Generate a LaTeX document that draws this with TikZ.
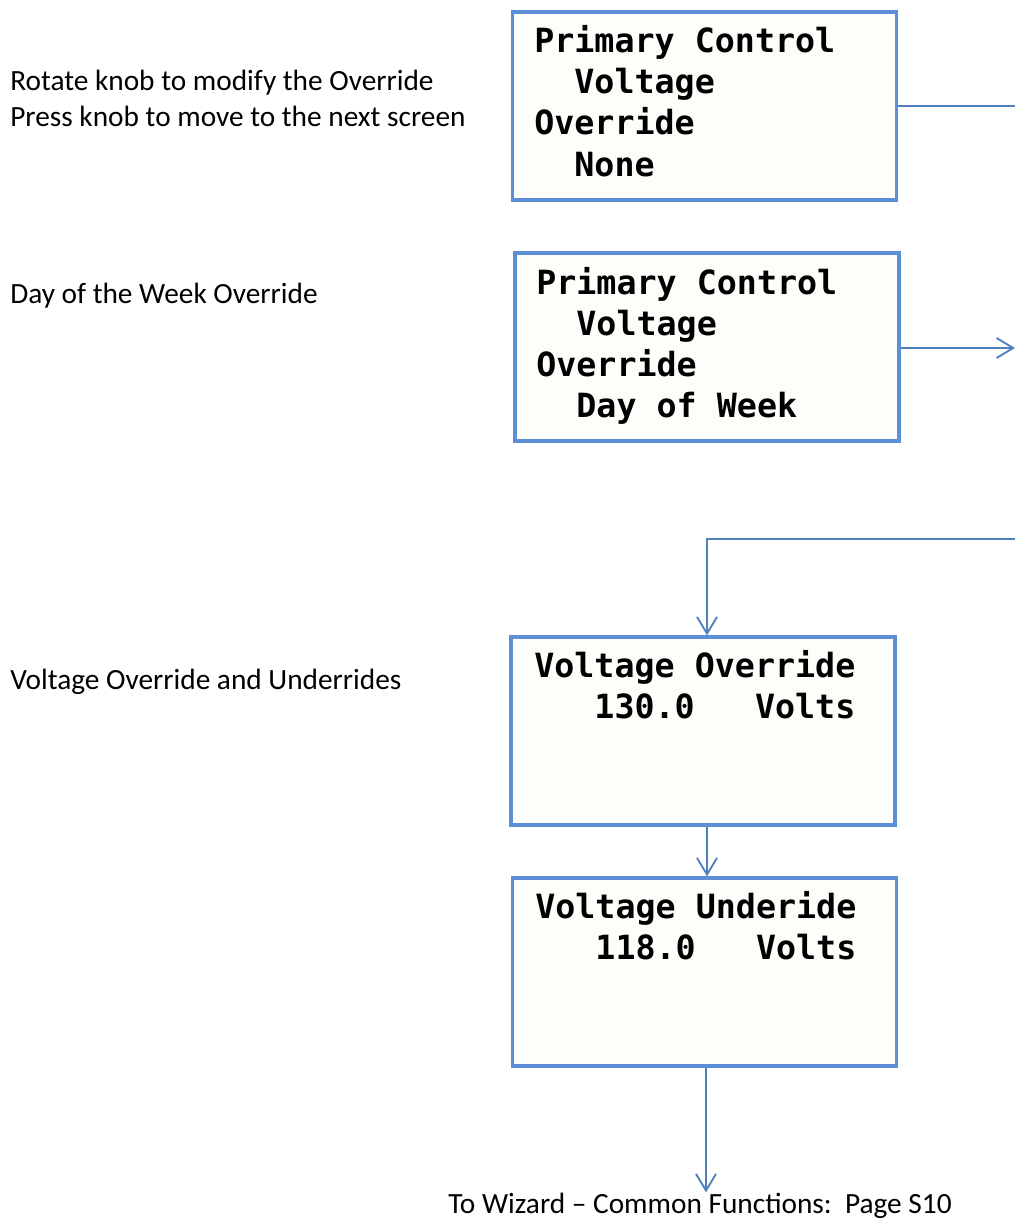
\documentclass[tikz,border=0pt]{standalone}
\usepackage{fontspec}
\setmainfont{Carlito}
\newfontfamily\lcd{DejaVu Sans Mono}
\usetikzlibrary{arrows.meta,calc}
\definecolor{boxblue}{RGB}{92,143,214}
\definecolor{linkblue}{RGB}{79,129,189}
\definecolor{lcdbg}{RGB}{253,254,249}
\begin{document}
\begin{tikzpicture}[x=0.75pt,y=-0.75pt,
  screen/.style={draw=boxblue,line width=2.4pt,fill=lcdbg,rectangle,inner sep=0pt,
    minimum width=288pt,minimum height=141pt},
  lcdline/.style={anchor=base west,inner sep=0pt,font=\lcd\bfseries\fontsize{25pt}{30pt}\selectfont},
  note/.style={anchor=base west,inner sep=0pt,font=\fontsize{22pt}{26pt}\selectfont},
  link/.style={draw=linkblue,line width=1.6pt},
  arr/.style={link,-{Straight Barb[length=12.5pt,width=15pt,line width=1.4pt]}}]
\useasboundingbox (0,0) rectangle (1015,1220);
\newcommand{\sps}[1]{\hphantom{#1}}
% left notes
\node[note] (n1) at (10,91) {Rotate knob to modify the Override};
\node[note] (n2) at (10,127) {Press knob to move to the next screen};
\node[note] (n3) at (10,303) {Day of the Week Override};
\node[note] (n4) at (10,689) {Voltage Override and Underrides};
% screens
\node[screen] (s1) at (704.5,106) {};
\node[screen] (s2) at (707,347) {};
\node[screen] (s3) at (703,731) {};
\node[screen] (s4) at (704.5,972) {};
% screen 1 text
\node[lcdline] (s1a) at (534,53) {Primary Control};
\node[lcdline] (s1b) at (534,94) {\sps{00}Voltage};
\node[lcdline] (s1c) at (534,135) {Override};
\node[lcdline] (s1d) at (534,176) {\sps{00}None};
% screen 2 text
\node[lcdline] (s2a) at (536,294) {Primary Control};
\node[lcdline] (s2b) at (536,335) {\sps{00}Voltage};
\node[lcdline] (s2c) at (536,376) {Override};
\node[lcdline] (s2d) at (536,417) {\sps{00}Day of Week};
% screen 3 text
\node[lcdline] (s3a) at (534,677) {Voltage Override};
\node[lcdline] (s3b) at (534,718) {\sps{000}130.0\sps{000}Volts};
% screen 4 text
\node[lcdline] (s4a) at (535,918) {Voltage Underide};
\node[lcdline] (s4b) at (535,959) {\sps{000}118.0\sps{000}Volts};
% bottom label
\node[note,anchor=base] (wiz) at (700,1213) {To Wizard -- Common Functions:\ \ Page S10};
% connectors
\coordinate (e1) at (1015,106);
\coordinate (e2) at (1015,348);
\coordinate (e3) at (1015,539);
\draw[link] (s1.east |- e1) -- (e1);
\draw[arr] (s2.east |- e2) -- (e2);
\draw[arr] (e3) -| (707,0 |- s3.north);
\draw[arr] (707,0 |- s3.south) -- (707,0 |- s4.north);
\draw[arr] (706,0 |- s4.south) -- (wiz.north -| 706,0);
\end{tikzpicture}
\end{document}
